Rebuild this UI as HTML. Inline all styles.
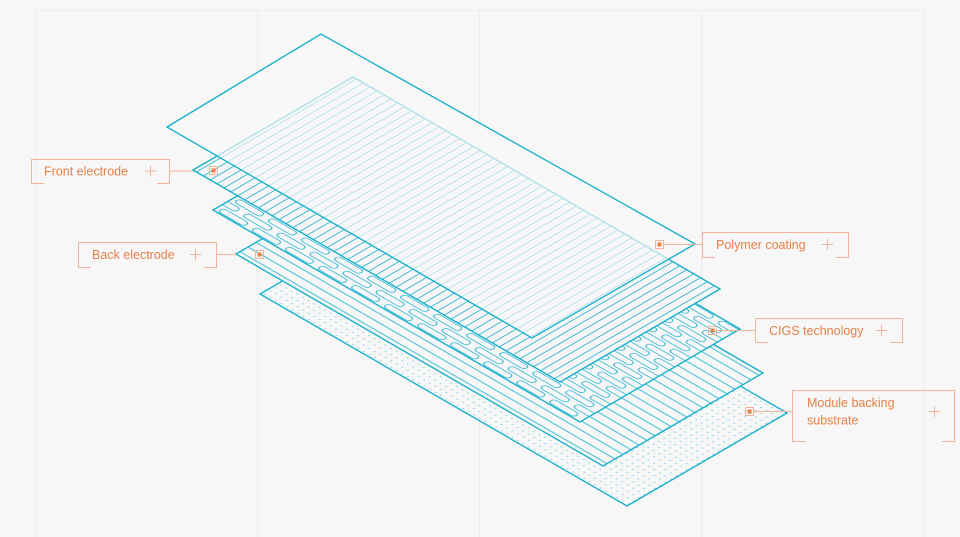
<!DOCTYPE html>
<html><head><meta charset="utf-8"><style>
html,body{margin:0;padding:0;background:#f7f7f7;}
body{width:960px;height:537px;overflow:hidden;position:relative;font-family:"Liberation Sans",sans-serif;}
svg{position:absolute;left:0;top:0;}
</style></head><body>
<svg width="960" height="537" viewBox="0 0 960 537" xmlns="http://www.w3.org/2000/svg">
<defs>
  <pattern id="pFront" patternUnits="userSpaceOnUse" width="7.5" height="180">
    <line x1="3.75" y1="0" x2="3.75" y2="180" stroke="#1fb3cf" stroke-width="0.9"/>
  </pattern>
  <pattern id="pBack" patternUnits="userSpaceOnUse" width="400" height="9">
    <line x1="0" y1="4.5" x2="400" y2="4.5" stroke="#1fb3cf" stroke-width="0.9"/>
  </pattern>
  <pattern id="pCigs" patternUnits="userSpaceOnUse" width="36" height="18">
    <g fill="none" stroke="#1fb3cf" stroke-width="0.9">
      <rect x="4" y="1.5" width="28" height="6" rx="3" ry="3"/>
      <rect x="22" y="10.5" width="28" height="6" rx="3" ry="3"/>
      <rect x="-14" y="10.5" width="28" height="6" rx="3" ry="3"/>
    </g>
  </pattern>
  <pattern id="pDots" patternUnits="userSpaceOnUse" width="6" height="6">
    <rect x="2" y="2" width="1.4" height="1.4" fill="#8ad4e3"/>
  </pattern>
</defs>
<!-- grid -->
<g stroke="#ececec" stroke-width="1">
  <line x1="35.5" y1="10" x2="35.5" y2="537"/>
  <line x1="257.5" y1="10" x2="257.5" y2="537"/>
  <line x1="479.5" y1="10" x2="479.5" y2="537"/>
  <line x1="701.5" y1="10" x2="701.5" y2="537"/>
  <line x1="923.5" y1="10" x2="923.5" y2="537"/>
  <line x1="35" y1="10.5" x2="923" y2="10.5"/>
</g>

<!-- Layer 5 substrate -->
<g transform="matrix(0.9175,0.53,0.8889,-0.5167,260,294)">
  <rect x="0" y="0" width="400" height="180" fill="#f7f7f7"/>
  <rect x="0" y="0" width="400" height="180" fill="url(#pDots)"/>
  <rect x="0" y="0" width="400" height="180" fill="none" stroke="#1ab0cc" stroke-width="1.4" vector-effect="non-scaling-stroke"/>
</g>
<!-- Layer 4 back electrode -->
<g transform="matrix(0.9175,0.53,0.8889,-0.5167,236,254)">
  <rect x="0" y="0" width="400" height="180" fill="#f7f7f7"/>
  <rect x="0" y="0" width="400" height="180" fill="url(#pBack)"/>
  <rect x="0" y="0" width="400" height="180" fill="none" stroke="#1ab0cc" stroke-width="1.4" vector-effect="non-scaling-stroke"/>
</g>
<!-- Layer 3 CIGS -->
<g transform="matrix(0.9175,0.53,0.8889,-0.5167,213,210)">
  <rect x="0" y="0" width="400" height="180" fill="#f7f7f7"/>
  <rect x="0" y="0" width="400" height="180" fill="url(#pCigs)"/>
  <rect x="0" y="0" width="400" height="180" fill="none" stroke="#1ab0cc" stroke-width="1.4" vector-effect="non-scaling-stroke"/>
</g>
<!-- Layer 2 front electrode -->
<g transform="matrix(0.9175,0.53,0.8889,-0.5167,193,170)">
  <rect x="0" y="0" width="400" height="180" fill="#f7f7f7"/>
  <rect x="0" y="0" width="400" height="180" fill="url(#pFront)"/>
  <rect x="0" y="0" width="400" height="180" fill="none" stroke="#1ab0cc" stroke-width="1.4" vector-effect="non-scaling-stroke"/>
</g>
<!-- Layer 1 polymer -->
<polygon points="167,127 321,34 695,244 532,338" fill="rgba(247,247,247,0.68)" stroke="#1ab0cc" stroke-width="1.4"/>

<!-- labels -->
<g fill="none" stroke="#f2b597" stroke-width="1">
  <path d="M44,183.5 H31.5 V159.5 H169.5 V183.5 H157"/>
  <line x1="169.5" y1="171" x2="193" y2="171"/>
  <rect x="209.5" y="166.5" width="8" height="8"/>
  <path d="M91,267.5 H78.5 V242.5 H216.5 V267.5 H204"/>
  <line x1="216.5" y1="254.5" x2="236" y2="254.5"/>
  <rect x="255.5" y="250.5" width="8" height="8"/>
  <path d="M715,257.5 H702.5 V232.5 H848.5 V257.5 H836"/>
  <line x1="663" y1="244.5" x2="702" y2="244.5"/>
  <rect x="655.5" y="240.5" width="8" height="8"/>
  <path d="M768,342.5 H755.5 V318.5 H902.5 V342.5 H890"/>
  <line x1="716" y1="330.5" x2="755" y2="330.5"/>
  <rect x="708.5" y="326.5" width="8" height="8"/>
  <path d="M806,441.5 H792.5 V390.5 H954.5 V441.5 H942"/>
  <line x1="753" y1="411.5" x2="792" y2="411.5"/>
  <rect x="745.5" y="407.5" width="8" height="8"/>
  <path d="M145,171 H156 M150.5,165.5 V176.5"/>
  <path d="M190,254.5 H201 M195.5,249 V260"/>
  <path d="M822,244.5 H833 M827.5,239 V250"/>
  <path d="M876,330.5 H887 M881.5,325 V336"/>
  <path d="M929,411.5 H940 M934.5,406 V417"/>
</g>
<g fill="#ec7f45">
  <rect x="211.5" y="168.5" width="4" height="4"/>
  <rect x="257.5" y="252.5" width="4" height="4"/>
  <rect x="657.5" y="242.5" width="4" height="4"/>
  <rect x="710.5" y="328.5" width="4" height="4"/>
  <rect x="747.5" y="409.5" width="4" height="4"/>
</g>
<g fill="#e8804a" font-family="Liberation Sans, sans-serif" font-size="12.5">
  <text x="44" y="175.5">Front electrode</text>
  <text x="92" y="259">Back electrode</text>
  <text x="716" y="249">Polymer coating</text>
  <text x="769" y="335">CIGS technology</text>
  <text x="807" y="407">Module backing</text>
  <text x="807" y="424.5">substrate</text>
</g>
</svg>
</body></html>
